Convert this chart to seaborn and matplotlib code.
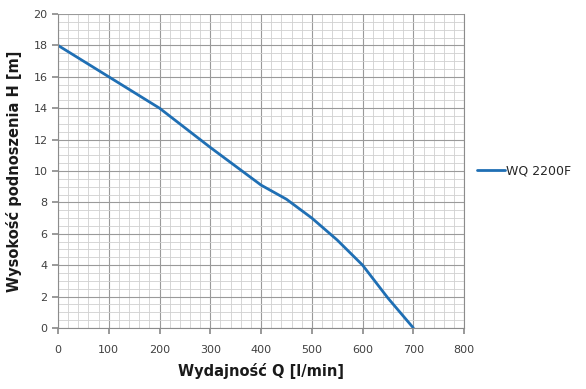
import numpy as np
import pandas as pd
import matplotlib.pyplot as plt
import seaborn as sns
from matplotlib.ticker import MultipleLocator

# dane
q_lmin = [0, 100, 200, 300, 400, 450, 500, 550, 600, 650, 700]
h_m = [18.0, 16.0, 14.0, 11.5, 9.1, 8.2, 7.0, 5.6, 4.0, 1.9, 0.0]
seria = "WQ 2200F"

df = pd.DataFrame({"Q": q_lmin, "H": h_m, "model": seria})

sns.set_theme(style="white")
plt.rcParams['font.family'] = ['DejaVu Sans']

fig = plt.figure(figsize=(5.86, 3.89), dpi=100)
ax = fig.add_axes([0.099, 0.157, 0.693, 0.807])

sns.lineplot(data=df, x="Q", y="H", hue="model", palette=["#1f6fb4"],
             linewidth=2, ax=ax)

ax.set_xlim(0, 800)
ax.set_ylim(0, 20)
ax.xaxis.set_major_locator(MultipleLocator(100))
ax.xaxis.set_minor_locator(MultipleLocator(20))
ax.yaxis.set_major_locator(MultipleLocator(2))
ax.yaxis.set_minor_locator(MultipleLocator(0.5))
ax.grid(which="major", color="#9a9a9a", linewidth=0.8)
ax.grid(which="minor", color="#d0d0d0", linewidth=0.6)
ax.set_axisbelow(True)

ax.spines["top"].set_visible(False)
for s in ["left", "bottom", "right"]:
    ax.spines[s].set_color("#8c8c8c")
    ax.spines[s].set_linewidth(0.8)

ax.tick_params(axis="both", which="major", labelsize=8, colors="#8c8c8c",
               labelcolor="#404040", length=4, direction="out",
               left=True, bottom=True)
ax.tick_params(axis="x", pad=8)

ax.set_xlabel("Wydajność Q [l/min]", fontsize=10.5, fontweight="bold",
              color="#1a1a1a", labelpad=6)
ax.set_ylabel("Wysokość podnoszenia H [m]", fontsize=10.5, fontweight="bold",
              color="#1a1a1a", labelpad=8)

ax.legend(loc="center left", bbox_to_anchor=(1.005, 0.5), frameon=False,
          fontsize=9, handlelength=2.2, handletextpad=0.1)

fig.savefig("out.png", dpi=100)
